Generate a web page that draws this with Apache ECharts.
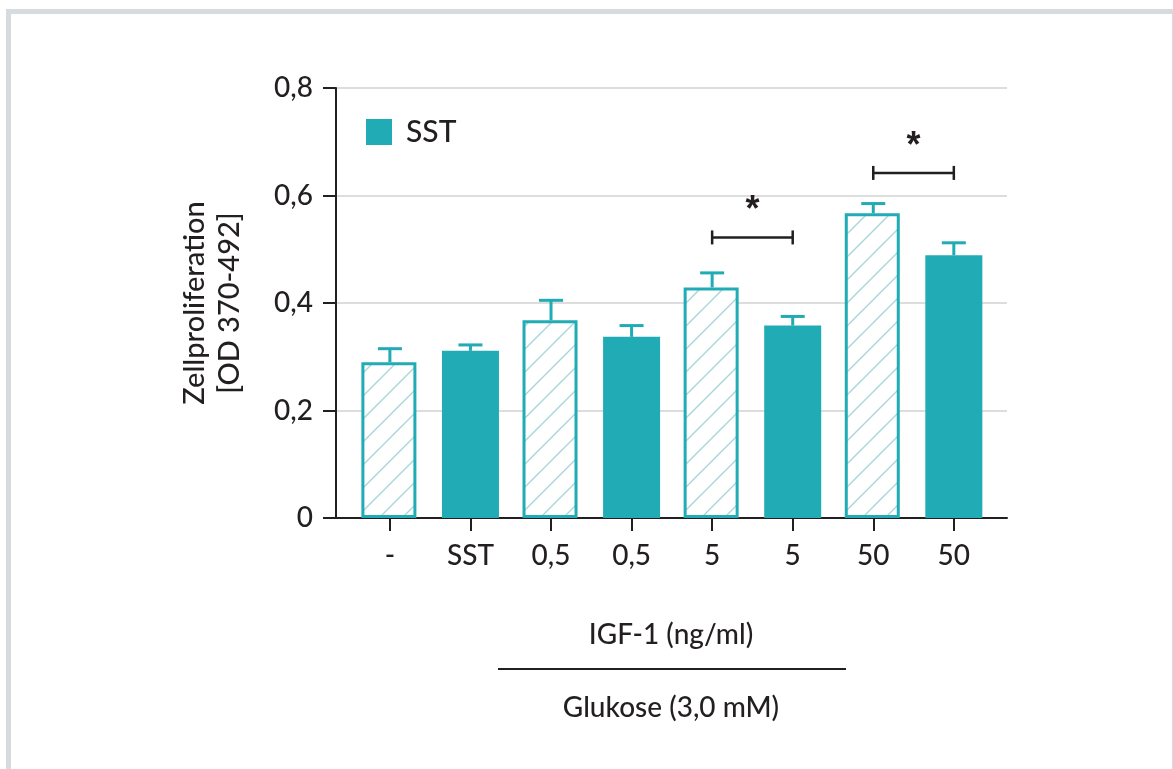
<!DOCTYPE html>
<html>
<head>
<meta charset="utf-8">
<script src="https://cdn.jsdelivr.net/npm/echarts@6/dist/echarts.min.js"></script>
<style>
  html, body { margin: 0; padding: 0; background: #ffffff; }
  #chart { width: 1173px; height: 769px; }
</style>
</head>
<body>
<div id="chart"></div>
<script>
// ---- data ----
const categories = ['-', 'SST', '0,5', '0,5', '5', '5', '50', '50'];
const values = [0.29, 0.311, 0.368, 0.337, 0.429, 0.358, 0.567, 0.489];
const errors = [0.025, 0.011, 0.037, 0.021, 0.027, 0.017, 0.018, 0.023];
const withSST = [false, true, false, true, false, true, false, true];
const yTicks = [0, 0.2, 0.4, 0.6, 0.8];
const significance = [[4, 5, 0.522], [6, 7, 0.642]];
const legendName = 'SST';
const xTitle = 'IGF-1 (ng/ml)';
const baseTitle = 'Glukose (3,0 mM)';
const yTitle = 'Zellproliferation\n[OD 370-492]';

// ---- styles ----
const TEAL = '#21abb4';
const INK = '#231f20';
const FONT = 'Lato, "Liberation Sans", Arial, sans-serif';
const STAR_FONT = '"Liberation Sans", Arial, sans-serif';
const FS = 28;

function hatchPattern() {
  const s = 23;
  const c = document.createElement('canvas');
  c.width = s; c.height = s;
  const g = c.getContext('2d');
  g.fillStyle = '#ffffff';
  g.fillRect(0, 0, s, s);
  g.strokeStyle = '#a6d6da';
  g.lineWidth = 1.4;
  g.beginPath();
  g.moveTo(-2, s + 2); g.lineTo(s + 2, -2);
  g.moveTo(-2, 2); g.lineTo(2, -2);
  g.moveTo(s - 2, s + 2); g.lineTo(s + 2, s - 2);
  g.stroke();
  return c;
}

const idx = categories.map((_, i) => i);
const hatchedData = idx.filter(i => !withSST[i]).map(i => [i, values[i]]);
const sstData = idx.filter(i => withSST[i]).map(i => [i, values[i]]);
const errData = idx.map(i => [i, values[i], errors[i]]);

const chart = echarts.init(document.getElementById('chart'), null, { renderer: 'canvas' });

const option = {
  animation: false,
  backgroundColor: '#ffffff',
  textStyle: { fontFamily: FONT, color: INK, fontWeight: 500 },
  grid: { left: 336, top: 88, right: 166, bottom: 251, containLabel: false },
  legend: {
    data: [legendName],
    left: 361, top: 112,
    itemWidth: 26, itemHeight: 26,
    icon: 'rect',
    selectedMode: false,
    textStyle: { fontFamily: FONT, fontWeight: 500, fontSize: 30, color: INK, padding: [0, 0, 0, 9] }
  },
  xAxis: {
    type: 'value',
    min: -0.669, max: 7.66,
    splitLine: { show: false },
    axisLine: { show: true, onZero: false, lineStyle: { color: INK, width: 2 } },
    axisTick: { show: true, length: 13, lineStyle: { color: INK, width: 2 }, customValues: idx },
    axisLabel: {
      customValues: idx,
      formatter: v => categories[Math.round(v)],
      fontFamily: FONT, fontWeight: 500, fontSize: FS, color: INK, margin: 24
    }
  },
  yAxis: {
    type: 'value',
    min: 0, max: 0.8, interval: 0.2,
    name: yTitle,
    nameLocation: 'middle',
    nameRotate: 90,
    nameGap: 89,
    nameTextStyle: { fontFamily: FONT, fontWeight: 500, fontSize: 29, lineHeight: 35, color: INK },
    axisLine: { show: true, onZero: false, lineStyle: { color: INK, width: 2 } },
    axisTick: { show: true, length: 13, lineStyle: { color: INK, width: 2 } },
    axisLabel: {
      formatter: v => String(Math.round(v * 10) / 10).replace('.', ','),
      fontFamily: FONT, fontWeight: 500, fontSize: FS, color: INK, margin: 23
    },
    splitLine: { show: true, lineStyle: { color: '#dddddd', width: 2 } }
  },
  series: [
    {
      name: 'Kontrolle',
      type: 'bar',
      data: hatchedData,
      barWidth: 55,
      barGap: '-100%',
      itemStyle: {
        color: { image: hatchPattern(), repeat: 'repeat' },
        borderColor: TEAL, borderWidth: 3
      },
      z: 2
    },
    {
      name: legendName,
      type: 'bar',
      data: sstData,
      barWidth: 57,
      barGap: '-100%',
      itemStyle: { color: TEAL },
      z: 2
    },
    {
      name: 'err',
      type: 'custom',
      data: errData,
      encode: { x: 0, y: 1 },
      z: 3,
      renderItem: function (params, api) {
        const x = api.value(0), v = api.value(1), e = api.value(2);
        const p0 = api.coord([x, v]);
        const p1 = api.coord([x, v + e]);
        const half = 12;
        return {
          type: 'group',
          children: [
            { type: 'line', shape: { x1: p0[0], y1: p0[1], x2: p1[0], y2: p1[1] },
              style: { stroke: TEAL, lineWidth: 3 } },
            { type: 'line', shape: { x1: p1[0] - half, y1: p1[1], x2: p1[0] + half, y2: p1[1] },
              style: { stroke: TEAL, lineWidth: 3 } }
          ]
        };
      }
    },
    {
      name: 'sig',
      type: 'custom',
      data: significance,
      encode: { x: [0, 1], y: 2 },
      z: 3,
      renderItem: function (params, api) {
        const a = api.value(0), b = api.value(1), y = api.value(2);
        const pa = api.coord([a, y]);
        const pb = api.coord([b, y]);
        const h = 7;
        return {
          type: 'group',
          children: [
            { type: 'line', shape: { x1: pa[0], y1: pa[1], x2: pb[0], y2: pb[1] },
              style: { stroke: INK, lineWidth: 2.5 } },
            { type: 'line', shape: { x1: pa[0], y1: pa[1] - h, x2: pa[0], y2: pa[1] + h },
              style: { stroke: INK, lineWidth: 2.5 } },
            { type: 'line', shape: { x1: pb[0], y1: pb[1] - h, x2: pb[0], y2: pb[1] + h },
              style: { stroke: INK, lineWidth: 2.5 } },
            { type: 'text', x: (pa[0] + pb[0]) / 2, y: pa[1] - 26,
              style: { text: '*', fill: INK, font: 'bold 36px ' + STAR_FONT, align: 'center', verticalAlign: 'middle' } }
          ]
        };
      }
    }
  ],
  graphic: [
    { type: 'rect', shape: { x: 8.5, y: 11.5, width: 1166, height: 800 },
      style: { fill: 'none', stroke: '#d5dbde', lineWidth: 5 }, z: 0, silent: true },
    { type: 'text', x: 671, y: 635,
      style: { text: xTitle, fill: INK, font: '500 ' + FS + 'px ' + FONT, align: 'center', verticalAlign: 'middle' } },
    { type: 'line', shape: { x1: 498, y1: 669, x2: 846, y2: 669 },
      style: { stroke: INK, lineWidth: 2 } },
    { type: 'text', x: 671, y: 708,
      style: { text: baseTitle, fill: INK, font: '500 ' + FS + 'px ' + FONT, align: 'center', verticalAlign: 'middle' } }
  ]
};

chart.setOption(option);
</script>
</body>
</html>
